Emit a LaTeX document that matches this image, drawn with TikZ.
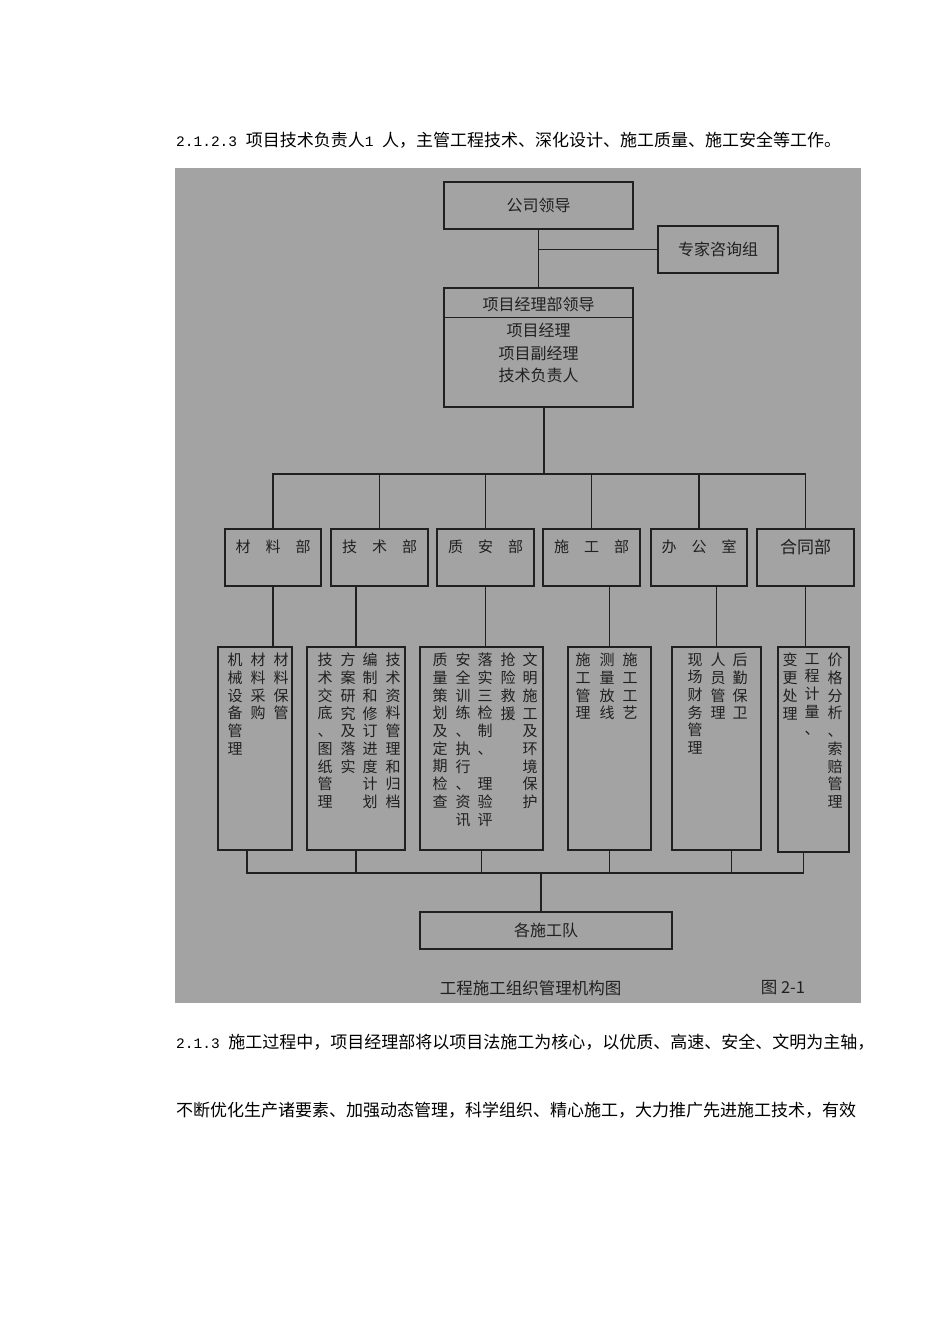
\documentclass[tikz,border=0pt]{standalone}
\usepackage{fontspec}
\setmainfont{Noto Sans CJK SC}
\newfontfamily\numfont{Liberation Mono}
\definecolor{mypapercolor}{HTML}{A3A3A3}
\definecolor{myinkcolor}{HTML}{202020}
\tikzset{
  orgbox/.style={draw=myinkcolor, line width=1.2pt, rectangle, inner sep=0pt, text=myinkcolor, font=\fontsize{16}{16}\selectfont},
  orgline/.style={draw=myinkcolor, line width=1.2pt},
  depttext/.style={inner sep=0pt, text=myinkcolor, font=\fontsize{15}{15}\selectfont},
  colnode/.style={anchor=north, inner sep=0pt, align=center, text=myinkcolor, font=\fontsize{15}{17.7}\selectfont},
  bodytext/.style={anchor=west, inner sep=0pt, text=black, font=\fontsize{17}{17}\selectfont}
}
% one character per line
\newcommand\vcol[1]{\vcolaux#1\relax}
\def\vcolaux#1{\ifx\relax#1\else#1\\\expandafter\vcolaux\fi}
% section numbers
\newcommand\secnum[1]{{\numfont\fontsize{14.5}{14.5}\selectfont #1}}

\begin{document}
\begin{tikzpicture}[x=1pt,y=-1pt]%
\useasboundingbox (0,0) rectangle (950,1344);%
\node[bodytext] (para1) at (176,140) {\secnum{2.1.2.3 }项目技术负责人\secnum{1 }人，主管工程技术、深化设计、施工质量、施工安全等工作。};%
\fill[mypapercolor] (175,168) rectangle (861,1003);%
% top
\node[orgbox, minimum width=189, minimum height=47] (lead) at (538.5,205.5) {公司领导};%
\node[orgbox, minimum width=120, minimum height=47] (expert) at (718,249.5) {专家咨询组};%
\node[orgbox, minimum width=189, minimum height=119] (pm) at (538.5,347.5) {};%
\node[depttext, font=\fontsize{16}{16}\selectfont] (pmtop) at (538.5,304) {项目经理部领导};%
\node[depttext, align=center, font=\fontsize{16}{22.5}\selectfont] (pmlist) at (538.5,353) {项目经理\\项目副经理\\技术负责人};%
% departments
\node[orgbox, minimum width=96, minimum height=57] (d1) at (273,557.5) {};%
\node[orgbox, minimum width=97, minimum height=57] (d2) at (379.5,557.5) {};%
\node[orgbox, minimum width=97, minimum height=57] (d3) at (485.5,557.5) {};%
\node[orgbox, minimum width=97, minimum height=57] (d4) at (591.5,557.5) {};%
\node[orgbox, minimum width=96, minimum height=57] (d5) at (699,557.5) {};%
\node[orgbox, minimum width=97, minimum height=57] (d6) at (805.5,557.5) {};%
\node[depttext] (d1t) at (273,547) {材　料　部};%
\node[depttext] (d2t) at (379.5,547) {技　术　部};%
\node[depttext] (d3t) at (485.5,547) {质　安　部};%
\node[depttext] (d4t) at (591.5,547) {施　工　部};%
\node[depttext] (d5t) at (699,547) {办　公　室};%
\node[depttext, font=\fontsize{17}{17}\selectfont] (d6t) at (805.5,547) {合同部};%
% duties
\node[orgbox, minimum width=74, minimum height=203] (l1) at (255,748.5) {};%
\node[orgbox, minimum width=98, minimum height=203] (l2) at (356,748.5) {};%
\node[orgbox, minimum width=123, minimum height=203] (l3) at (481.5,748.5) {};%
\node[orgbox, minimum width=83, minimum height=203] (l4) at (609.5,748.5) {};%
\node[orgbox, minimum width=89, minimum height=203] (l5) at (716.5,748.5) {};%
\node[orgbox, minimum width=71, minimum height=205] (l6) at (813.5,749.5) {};%
\node[colnode] (l1a) at (281,653) {\vcol{材料保管}};%
\node[colnode] (l1b) at (258,653) {\vcol{材料采购}};%
\node[colnode] (l1c) at (235,653) {\vcol{机械设备管理}};%
\node[colnode] (l2a) at (393,653) {\vcol{技术资料管理和归档}};%
\node[colnode] (l2b) at (370,653) {\vcol{编制和修订进度计划}};%
\node[colnode] (l2c) at (348,653) {\vcol{方案研究及落实}};%
\node[colnode] (l2d) at (325,653) {\vcol{技术交底、图纸管理}};%
\node[colnode] (l3a) at (530,653) {\vcol{文明施工及环境保护}};%
\node[colnode] (l3b) at (508,653) {\vcol{抢险救援}};%
\node[colnode] (l3c) at (485,653) {\vcol{落实三检制、　理验评}};%
\node[colnode] (l3d) at (463,653) {\vcol{安全训练、执行、资讯}};%
\node[colnode] (l3e) at (440,653) {\vcol{质量策划及定期检查}};%
\node[colnode] (l4a) at (630,653) {\vcol{施工工艺}};%
\node[colnode] (l4b) at (607,653) {\vcol{测量放线}};%
\node[colnode] (l4c) at (583,653) {\vcol{施工管理}};%
\node[colnode] (l5a) at (740,653) {\vcol{后勤保卫}};%
\node[colnode] (l5b) at (718,653) {\vcol{人员管理}};%
\node[colnode] (l5c) at (695,653) {\vcol{现场财务管理}};%
\node[colnode] (l6a) at (835,653) {\vcol{价格分析、索赔管理}};%
\node[colnode] (l6b) at (812,653) {\vcol{工程计量、}};%
\node[colnode] (l6c) at (790,653) {\vcol{变更处理}};%
% teams
\node[orgbox, minimum width=252, minimum height=37] (team) at (546,930.5) {各施工队};%
\node[depttext, font=\fontsize{16.5}{16.5}\selectfont] (caption) at (530.5,988) {工程施工组织管理机构图};%
\node[depttext, font=\fontsize{16.5}{16.5}\selectfont] (fignum) at (783,988) {图 2-1};%
% lines
\draw[orgline] (lead.south) -- (pm.north);%
\draw[orgline] (expert.west) -- (expert.west -| lead.south);%
\draw[orgline] ([yshift=-30pt]pm.north west) -- ([yshift=-30pt]pm.north east);%
\coordinate (bus1) at (544,474);%
\draw[orgline] ([xshift=5.5pt]pm.south) -- (bus1);%
\draw[orgline] (d1.north) |- (bus1) -| (d6.north);%
\foreach \d in {d2,d3,d4,d5} \draw[orgline] (\d.north) -- (\d.north |- bus1);%
\draw[orgline] (d1.south) -- (d1.south |- l1.north);%
\draw[orgline] (l2.north) -- (l2.north |- d2.south);%
\draw[orgline] (d3.south) -- (d3.south |- l3.north);%
\draw[orgline] (l4.north) -- (l4.north |- d4.south);%
\draw[orgline] (l5.north) -- (l5.north |- d5.south);%
\draw[orgline] (d6.south) -- (d6.south |- l6.north);%
\coordinate (bus2) at (541,873);%
\draw[orgline] ([xshift=-8pt]l1.south) |- (bus2) -| ([xshift=-10pt]l6.south);%
\draw[orgline] (l2.south) -- (l2.south |- bus2);%
\draw[orgline] (l3.south) -- (l3.south |- bus2);%
\draw[orgline] (l4.south) -- (l4.south |- bus2);%
\draw[orgline] ([xshift=15pt]l5.south) -- ([xshift=15pt]l5.south |- bus2);%
\draw[orgline] (bus2) -- (bus2 |- team.north);%
\node[bodytext] (para2) at (176,1042) {\secnum{2.1.3 }施工过程中，项目经理部将以项目法施工为核心，以优质、高速、安全、文明为主轴，};%
\node[bodytext] (para3) at (176,1110) {不断优化生产诸要素、加强动态管理，科学组织、精心施工，大力推广先进施工技术，有效};%
\end{tikzpicture}
\end{document}
